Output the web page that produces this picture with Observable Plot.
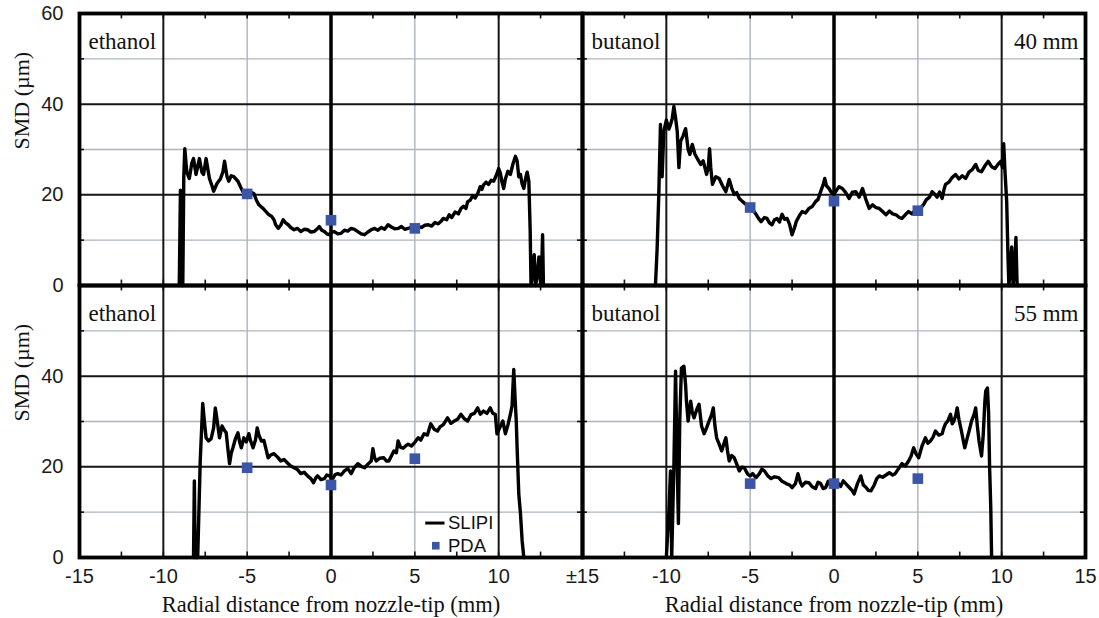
<!DOCTYPE html>
<html>
<head>
<meta charset="utf-8">
<script src="https://cdn.jsdelivr.net/npm/d3@7"></script>
<script src="https://cdn.jsdelivr.net/npm/@observablehq/plot@0.6"></script>
<style>
  html, body { margin: 0; padding: 0; background: #fff; }
  #chart { width: 1099px; height: 618px; }
</style>
</head>
<body>
<div id="chart"></div>
<script>
// ---- categories ----
const fluids = ["ethanol", "butanol"];
const heights = ["40 mm", "55 mm"];
const heightLabels = ["40 mm", "55 mm"];
const xTitle = "Radial distance from nozzle-tip (mm)";
const yTitle = "SMD (µm)";
const legendLabels = ["SLIPI", "PDA"];

// ---- tick labels ----
const xTickLeftValues = [-15, -10, -5, 0, 5, 10];
const xTickLeftLabels = ["-15", "-10", "-5", "0", "5", "10"];
const xTickRightValues = [-15, -10, -5, 0, 5, 10, 15];
const xTickRightLabels = ["±15", "-10", "-5", "0", "5", "10", "15"];
const yTickTopValues = [0, 20, 40, 60];
const yTickBottomValues = [0, 20, 40];
const gridDark = [-10, 10];
const gridLight = [-5, 5];
const gridYDark = [20, 40];
const gridYLight = [10, 30, 50];
const minorX = [-12.5, -10, -7.5, -5, -2.5, 2.5, 5, 7.5, 10, 12.5];
const minorY = [10, 30, 50];

// ---- SLIPI series: ethanol, 40 mm ----
const eth40X = [-9.05,-8.98,-8.92,-8.84,-8.78,-8.72,-8.6,-8.45,-8.3,-8.2,-8.05,-7.85,-7.7,-7.6,-7.45,-7.25,-7.1,-7.0,-6.8,-6.6,-6.45,-6.35,-6.2,-6.1,-5.95,-5.8,-5.55,-5.4,-5.25,-5.05,-4.8,-4.6,-4.45,-4.3,-4.15,-4.0,-3.85,-3.7,-3.55,-3.4,-3.3,-3.15,-3.0,-2.85,-2.7,-2.55,-2.4,-2.2,-2.0,-1.8,-1.6,-1.4,-1.2,-1.0,-0.85,-0.7,-0.55,-0.4,-0.25,-0.1,0.05,0.2,0.4,0.6,0.8,1.0,1.2,1.4,1.6,1.8,2.0,2.2,2.4,2.6,2.8,3.0,3.2,3.4,3.6,3.8,4.0,4.2,4.4,4.6,4.8,5.0,5.2,5.4,5.6,5.8,6.0,6.2,6.4,6.55,6.7,6.9,7.05,7.2,7.4,7.6,7.75,7.9,8.05,8.15,8.3,8.45,8.6,8.75,8.9,9.0,9.1,9.25,9.4,9.55,9.7,9.85,10.0,10.1,10.2,10.3,10.4,10.55,10.7,10.85,11.0,11.1,11.2,11.3,11.4,11.5,11.6,11.7,11.8,11.88,11.93,12.05,12.12,12.2,12.3,12.4,12.5,12.58,12.62,12.67];
const eth40Y = [0,21,1,0,24,30.2,25,23.6,27,28,24.5,28,25,24.5,28,23.6,22,20.8,22.5,23.5,25,27.4,24,23,24.2,24,23,21.8,20.7,20.3,20.6,20.3,18.8,17.8,17.3,16.8,16.2,15.6,15.3,14.5,13.4,12.6,13.3,14.5,13.8,13.4,12.8,12.3,12.6,11.9,12.4,12.3,11.8,11.9,12.4,13.0,12.2,11.9,11.4,11.2,11.8,11.9,11.4,11.5,12.2,12.0,12.6,12.4,11.9,11.4,11.2,11.8,12.3,12.6,12.2,12.8,12.4,13.4,12.9,12.5,12.6,13.0,12.4,12.6,12.8,12.6,13.0,12.8,13.3,13.4,13.1,13.9,13.6,14.1,14.8,14.5,15.6,15.0,16.2,15.8,17.0,17.5,17.0,18.5,18.8,19.8,19.3,20.3,21.8,21.2,22.2,22.8,22.3,23.2,23.0,24.2,25.8,24.8,22.8,21.4,23.5,25.2,24.5,26.8,28.5,27.5,24.0,24.5,22.4,21.4,23.5,25.0,23.0,12,0,3,6.8,0,2,6.3,0.5,6,11.2,0];

// ---- SLIPI series: butanol, 40 mm ----
const but40X = [-10.65,-10.55,-10.45,-10.35,-10.25,-10.15,-10.0,-9.85,-9.75,-9.65,-9.55,-9.45,-9.35,-9.25,-9.15,-9.0,-8.85,-8.7,-8.6,-8.45,-8.3,-8.15,-7.95,-7.8,-7.6,-7.5,-7.42,-7.35,-7.25,-7.05,-6.85,-6.65,-6.45,-6.25,-6.1,-5.95,-5.8,-5.65,-5.45,-5.25,-5.0,-4.8,-4.65,-4.5,-4.35,-4.15,-4.0,-3.85,-3.7,-3.55,-3.4,-3.25,-3.1,-2.95,-2.8,-2.65,-2.5,-2.35,-2.25,-2.05,-1.9,-1.7,-1.5,-1.3,-1.1,-0.95,-0.8,-0.65,-0.55,-0.45,-0.3,-0.15,0.0,0.1,0.3,0.5,0.7,0.9,1.1,1.3,1.5,1.7,1.9,2.1,2.3,2.5,2.7,2.9,3.1,3.3,3.5,3.7,3.9,4.05,4.25,4.45,4.65,4.85,5.0,5.2,5.35,5.5,5.7,5.85,6.0,6.15,6.3,6.45,6.55,6.65,6.85,7.05,7.25,7.45,7.65,7.85,8.05,8.25,8.45,8.6,8.8,9.0,9.2,9.4,9.6,9.8,9.95,10.05,10.12,10.2,10.3,10.38,10.43,10.5,10.6,10.68,10.78,10.85,10.92,11.0];
const but40Y = [0,8,20,35.5,24,34,36.5,34.5,35.5,36.8,39.5,37,34,26,31.8,33,34.6,30,28.9,31.1,29,28,26.7,27.5,24.5,26,30.2,26,22.3,24,23.6,22,20.7,23.4,21.5,20.1,20.5,19.2,18.5,17.9,17.2,16.5,15.7,14.8,14.1,15.0,14.8,13.8,13.4,14.5,14.8,14.0,15.7,14.6,14.8,13.5,11.2,12.8,14.1,15.5,16.3,16.0,17.0,17.4,18.5,19.0,20.7,22.2,23.6,22.0,21.4,20.5,20.2,20.7,21.8,21.4,20.5,19.2,20.6,20.7,19.5,21.4,19.0,17.0,17.8,17.2,17.0,16.3,15.6,16.4,15.8,15.6,15.0,14.8,15.6,16.3,15.8,16.6,16.5,17.2,17.9,18.9,19.5,20.7,20.2,19.5,20.6,19.2,21.0,22.3,22.8,23.8,24.5,23.5,24.2,23.6,25.0,25.6,26.7,25.4,25.1,26.4,27.4,26.2,25.8,26.8,27.4,26,31.3,25,18.5,6,0,3,8.5,0,4,10.6,0,0];

// ---- SLIPI series: ethanol, 55 mm ----
const eth55X = [-8.2,-8.15,-8.1,-7.95,-7.8,-7.65,-7.55,-7.45,-7.3,-7.15,-7.0,-6.9,-6.8,-6.65,-6.5,-6.35,-6.25,-6.15,-6.05,-5.95,-5.85,-5.7,-5.55,-5.45,-5.35,-5.2,-5.05,-4.9,-4.8,-4.65,-4.5,-4.4,-4.3,-4.15,-4.0,-3.85,-3.75,-3.6,-3.4,-3.2,-3.0,-2.8,-2.55,-2.4,-2.2,-2.0,-1.8,-1.6,-1.4,-1.2,-1.05,-0.9,-0.8,-0.6,-0.4,-0.25,-0.1,0.1,0.25,0.4,0.6,0.8,1.0,1.2,1.4,1.6,1.8,2.0,2.2,2.4,2.5,2.6,2.7,2.9,3.15,3.3,3.45,3.6,3.75,3.9,4.0,4.15,4.3,4.45,4.6,4.8,5.0,5.2,5.35,5.55,5.75,5.95,6.15,6.35,6.5,6.7,6.95,7.15,7.35,7.55,7.75,7.95,8.15,8.35,8.55,8.75,8.9,9.1,9.3,9.5,9.65,9.8,9.9,10.05,10.25,10.4,10.55,10.7,10.8,10.9,10.98,11.05,11.1,11.2,11.3,11.4,11.5];
const eth55Y = [0,16.9,0,0,21.3,34,30,26.4,25.7,26.2,28.6,33,30.5,26.4,29,28,27.5,24,20.7,23,24.2,26.2,27.5,25.5,24.2,26.4,25.5,27.3,25.8,24.2,26,28.6,27,25.7,25.8,23.5,22,22.6,22.9,22.2,21.3,21.6,20.7,20.2,19.8,19.4,18.5,18.8,18,17.4,16.5,17.6,18,17.2,17.4,18.2,18,17.4,18.3,18.5,18.2,19.1,19.6,18.5,19.9,20.7,20.1,19.8,20.6,21.3,24,22,21.3,21.9,22,21.3,21.3,22.4,23.5,23.1,25.7,24.3,24.1,24.6,25,24.6,25.4,26.4,25.9,27.3,27.0,29.5,28.3,27.9,28.8,29.3,30.8,29.6,30.1,30.5,31.6,30.6,30.1,31.5,31.8,33,31.6,32.3,31.8,33,31.8,31.6,27.3,28.5,30.1,27.3,29.2,31.6,33.5,41.5,35,30.1,24.2,14,9.7,3.7,0];

// ---- SLIPI series: butanol, 55 mm ----
const but55X = [-10.0,-9.85,-9.75,-9.68,-9.55,-9.45,-9.35,-9.28,-9.2,-9.1,-8.95,-8.85,-8.8,-8.7,-8.55,-8.45,-8.35,-8.2,-8.05,-7.9,-7.75,-7.6,-7.45,-7.3,-7.2,-7.1,-7.0,-6.85,-6.7,-6.55,-6.45,-6.35,-6.25,-6.1,-5.95,-5.8,-5.65,-5.5,-5.35,-5.15,-5.0,-4.85,-4.65,-4.45,-4.3,-4.15,-3.95,-3.75,-3.55,-3.3,-3.1,-2.85,-2.65,-2.5,-2.3,-2.15,-2.0,-1.9,-1.7,-1.5,-1.3,-1.1,-0.95,-0.8,-0.65,-0.5,-0.35,-0.2,0.0,0.2,0.4,0.55,0.7,0.9,1.1,1.2,1.4,1.6,1.75,1.9,2.05,2.2,2.4,2.55,2.7,2.9,3.1,3.3,3.5,3.65,3.85,4.05,4.25,4.45,4.6,4.75,4.9,5.05,5.25,5.45,5.6,5.75,5.9,6.05,6.25,6.45,6.55,6.65,6.8,6.95,7.05,7.15,7.25,7.35,7.45,7.6,7.7,7.8,7.95,8.1,8.2,8.35,8.45,8.55,8.65,8.75,8.8,8.9,9.0,9.05,9.15,9.22,9.28,9.35,9.4];
const but55Y = [0,10,19.1,0,20,41.1,20,7.5,30,41.8,42.2,38,34.5,30.1,34.5,32,30.8,32.5,33.8,29,27.3,28.6,30.1,31.5,33,29,26.4,25,23.5,25.3,26.4,23.5,21.3,22.5,22,20.6,19.1,19.9,19.8,18.4,18.0,18.5,17.6,18.5,19.5,19.1,18.0,17.4,17.8,17.6,16.8,16.3,16.0,15.4,16.3,18.5,16.5,15.8,16.6,16.5,15.6,15.2,16.6,16.3,15.2,15.4,16.8,15.8,16.4,16.6,15.7,16.9,16.3,15.5,14.7,14,16.3,18,16,15.5,14.8,14.7,16,17.4,18,17.7,18.2,18.7,18.2,18.5,19.6,20.7,20.2,21.3,22.4,24.2,22.8,22,24.6,26.4,25.2,25.7,26.5,27.9,27.0,27.3,28.6,29.5,30.2,31.6,29.5,30.1,31.2,33,30.5,27.9,26,24.2,26.4,28.5,30.1,31.5,33,29,25.7,23.5,22.4,27,34.5,36.7,37.4,32,20,11,0];

// ---- PDA points ----
const pdaX = [-5, 0, 5];
const eth40Pda = [20.2, 14.4, 12.6];
const but40Pda = [17.2, 18.6, 16.5];
const eth55Pda = [19.8, 16.0, 21.8];
const but55Pda = [16.3, 16.3, 17.4];

// ---- build tidy tables ----
const series = [
  {fluid: "ethanol", height: "40 mm", X: eth40X, Y: eth40Y, P: eth40Pda},
  {fluid: "butanol", height: "40 mm", X: but40X, Y: but40Y, P: but40Pda},
  {fluid: "ethanol", height: "55 mm", X: eth55X, Y: eth55Y, P: eth55Pda},
  {fluid: "butanol", height: "55 mm", X: but55X, Y: but55Y, P: but55Pda}
];
const slipi = series.flatMap(s => s.X.map((x, i) => ({fluid: s.fluid, height: s.height, x, y: s.Y[i]})));
const pda = series.flatMap(s => pdaX.map((x, i) => ({fluid: s.fluid, height: s.height, x, y: s.P[i]})));

const xTickRows = [
  ...xTickLeftValues.map((v, i) => ({fluid: "ethanol", v, label: xTickLeftLabels[i]})),
  ...xTickRightValues.map((v, i) => ({fluid: "butanol", v, label: xTickRightLabels[i]}))
];
const yTickRows = [
  ...yTickTopValues.map(v => ({height: "40 mm", v})),
  ...yTickBottomValues.map(v => ({height: "55 mm", v}))
];
const panelLabelRows = heights.flatMap(h => fluids.map(f => ({fluid: f, height: h})));

const SERIF = "'Liberation Serif', 'Times New Roman', serif";
const SANS = "'Liberation Sans', Arial, sans-serif";
const BLUE = "#3d55a6";
const LIGHT = "#aeb3bd";

const chart = Plot.plot({
  width: 1099,
  height: 618,
  marginTop: 12,
  marginBottom: 61,
  marginLeft: 78,
  marginRight: 14,
  x: {domain: [-15, 15], axis: null},
  y: {domain: [0, 60], axis: null},
  fx: {domain: fluids, padding: 0, axis: null},
  fy: {domain: heights, padding: 0, axis: null},
  style: {background: "#fff", color: "#111"},
  marks: [
    // grid
    Plot.ruleY(gridYLight, {stroke: LIGHT, strokeWidth: 1.4}),
    Plot.ruleX(gridLight, {stroke: LIGHT, strokeWidth: 1.4}),
    Plot.ruleY(gridYDark, {stroke: "#151515", strokeWidth: 2}),
    Plot.ruleX(gridDark, {stroke: "#151515", strokeWidth: 2}),
    Plot.ruleX([0], {stroke: "#000", strokeWidth: 3.5}),
    // minor ticks on edges
    Plot.ruleX(minorX, {y1: 0, y2: 1.2, stroke: "#111", strokeWidth: 1.6}),
    Plot.ruleX(minorX, {y1: 58.8, y2: 60, stroke: "#111", strokeWidth: 1.6}),
    Plot.ruleY(minorY, {x1: -15, x2: -14.7, stroke: "#111", strokeWidth: 1.6}),
    Plot.ruleY(minorY, {x1: 14.7, x2: 15, stroke: "#111", strokeWidth: 1.6}),
    // data
    Plot.line(slipi, {x: "x", y: "y", fx: "fluid", fy: "height", stroke: "#000", strokeWidth: 3.4, strokeLinejoin: "round", strokeLinecap: "round"}),
    Plot.dot(pda, {x: "x", y: "y", fx: "fluid", fy: "height", symbol: "square", r: 6, fill: BLUE, stroke: "none"}),
    // panel frame
    Plot.frame({stroke: "#000", strokeWidth: 3.8}),
    // panel labels
    Plot.text(panelLabelRows, {fx: "fluid", fy: "height", text: "fluid", frameAnchor: "top-left", textAnchor: "start", lineAnchor: "middle", dx: 9, dy: 28, fontSize: 23, fontFamily: SERIF, fill: "#111"}),
    Plot.text(heights, {fx: () => "butanol", fy: d => d, text: (d, i) => heightLabels[i], frameAnchor: "top-right", textAnchor: "end", lineAnchor: "middle", dx: -7, dy: 28, fontSize: 23, fontFamily: SERIF, fill: "#111"}),
    // x tick labels
    Plot.text(xTickRows, {x: "v", text: "label", fx: "fluid", fy: () => "55 mm", frameAnchor: "bottom", lineAnchor: "middle", dy: 19, fontSize: 20, fontFamily: SANS, fill: "#1a1a1a"}),
    // y tick labels
    Plot.text(yTickRows, {y: "v", text: d => String(d.v), fx: () => "ethanol", fy: "height", frameAnchor: "left", textAnchor: "end", lineAnchor: "middle", dx: -16, fontSize: 20, fontFamily: SANS, fill: "#1a1a1a"}),
    // axis titles
    Plot.text(fluids, {fx: d => d, fy: () => "55 mm", text: () => xTitle, frameAnchor: "bottom", lineAnchor: "middle", dy: 47, fontSize: 22.5, fontFamily: SERIF, fill: "#111"}),
    Plot.text(heights, {fx: () => "ethanol", fy: d => d, text: () => yTitle, frameAnchor: "left", rotate: -90, dx: -58, lineAnchor: "middle", fontSize: 22, fontFamily: SERIF, fill: "#111"}),
    // legend
    Plot.ruleY([legendLabels[0]], {y: () => 7.6, x1: 5.65, x2: 6.8, fx: () => "ethanol", fy: () => "55 mm", stroke: "#000", strokeWidth: 3}),
    Plot.dot([legendLabels[1]], {x: () => 6.25, y: () => 2.6, fx: () => "ethanol", fy: () => "55 mm", symbol: "square", r: 4.3, fill: BLUE}),
    Plot.text(legendLabels, {x: () => 6.98, y: (d, i) => [7.6, 2.6][i], text: d => d, fx: () => "ethanol", fy: () => "55 mm", textAnchor: "start", lineAnchor: "middle", fontSize: 18.5, fontFamily: SANS, fill: "#111"})
  ]
});
document.getElementById("chart").appendChild(chart);
</script>
</body>
</html>
